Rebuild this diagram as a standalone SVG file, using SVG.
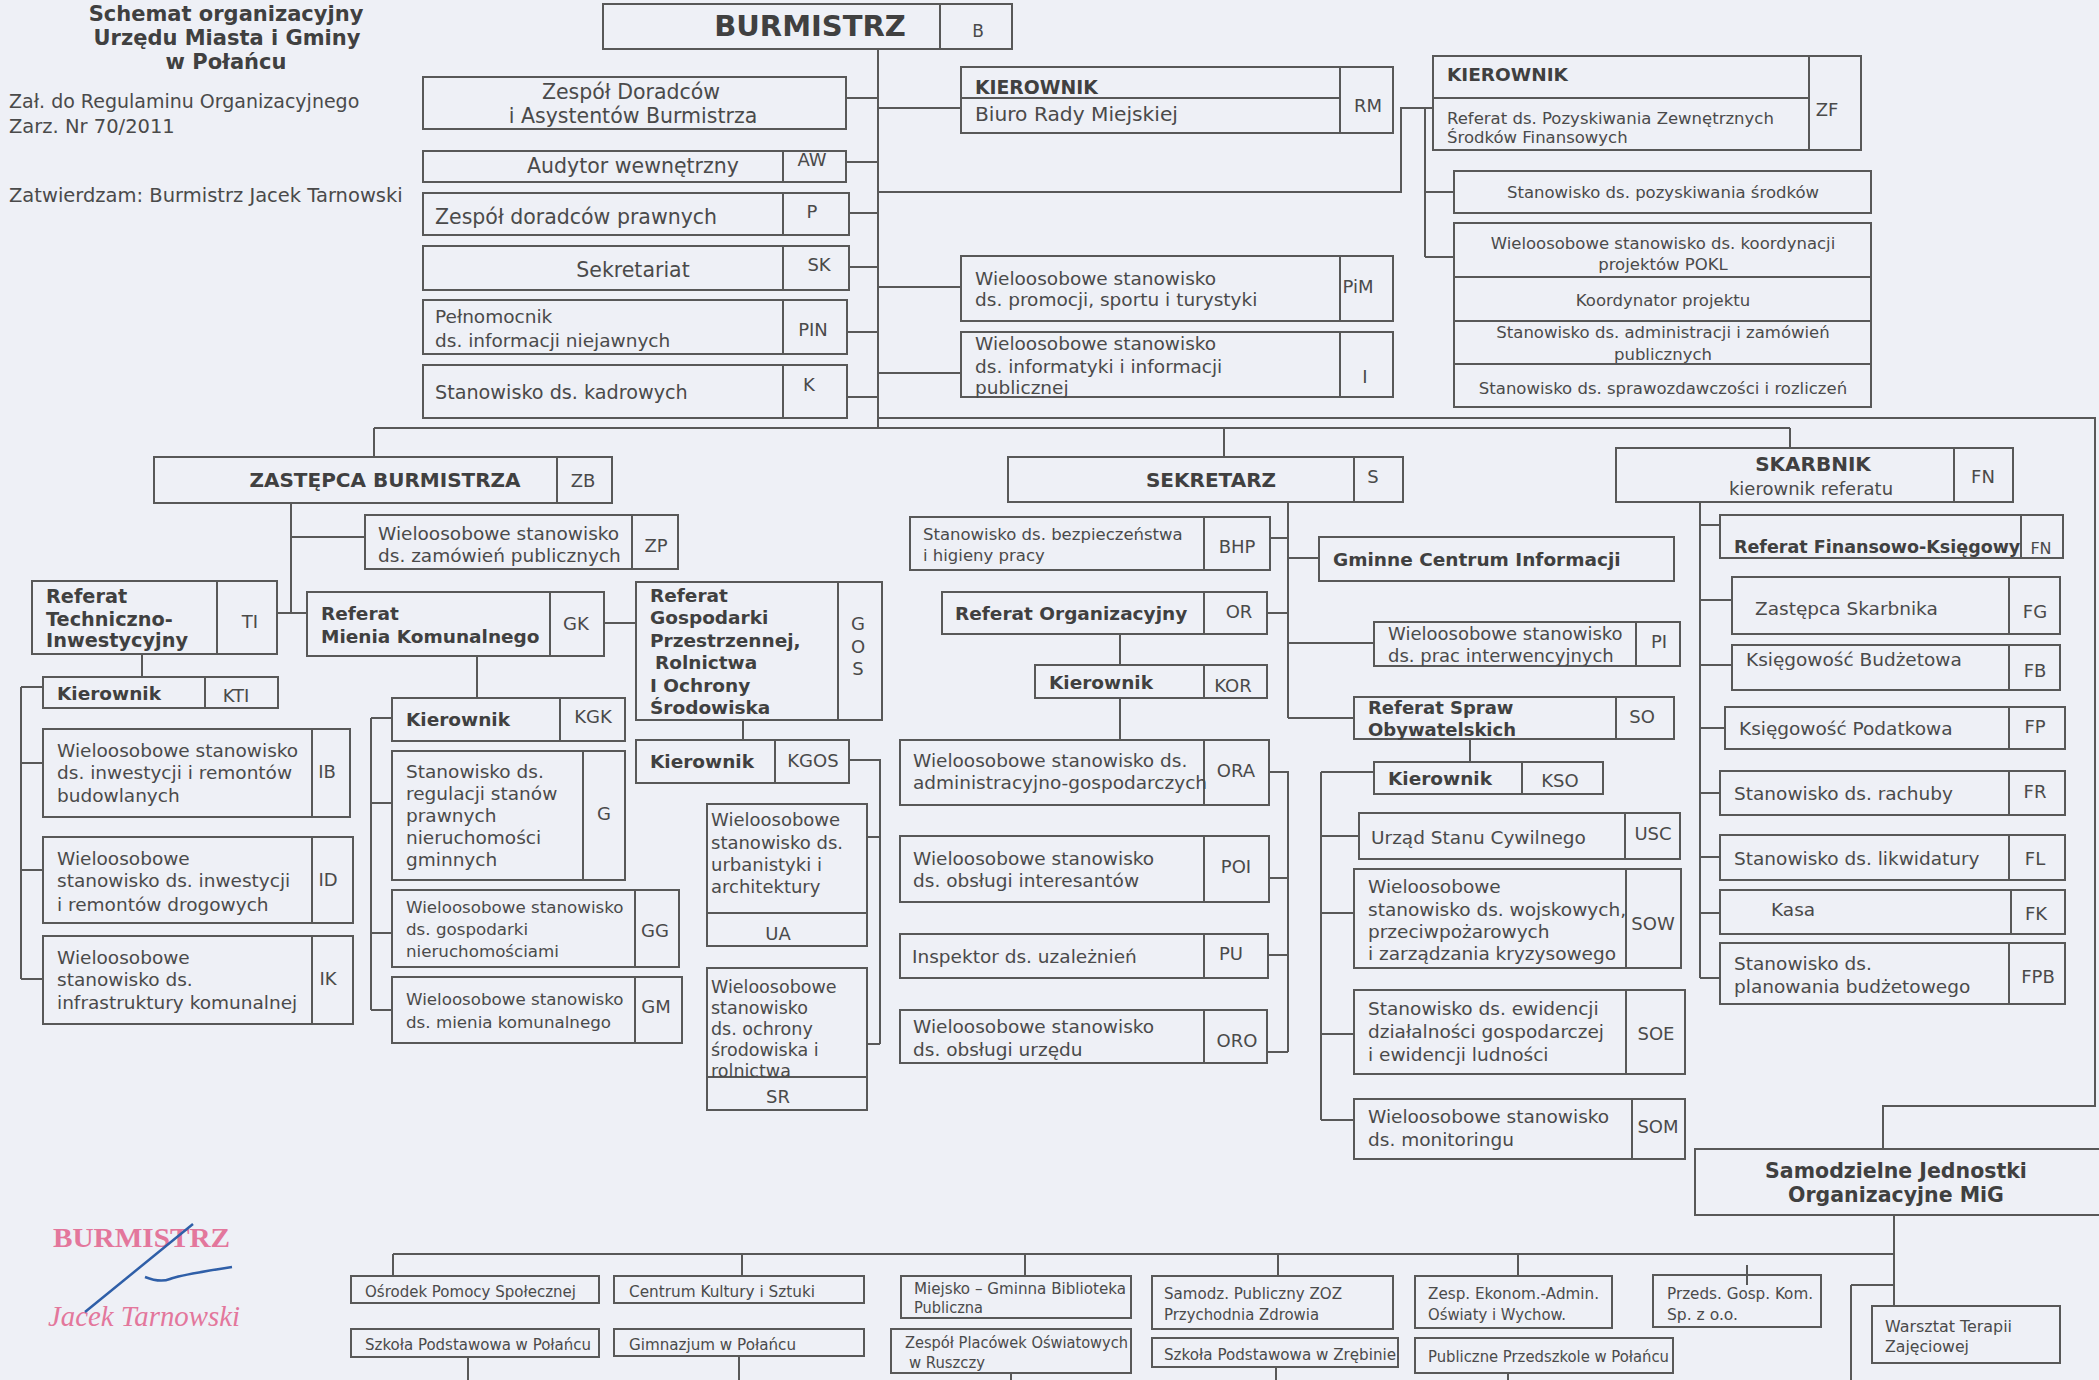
<svg xmlns="http://www.w3.org/2000/svg" width="2099" height="1380" viewBox="0 0 2099 1380">
<style>
.bg{fill:#eef0f6}
.bx{fill:none;stroke:#585858;stroke-width:2}
.ln{fill:none;stroke:#585858;stroke-width:2}
text{font-family:'DejaVu Sans',sans-serif;fill:#4a4a4a;font-size:18.5px}
.b{font-weight:bold;fill:#404040}
.m{text-anchor:middle}
.c{text-anchor:middle;font-size:18px}
.s{font-size:16.5px}
.n{font-size:16px}
.sig{font-family:'Liberation Serif',serif;fill:#e3779c}
</style>
<rect class="bg" width="2099" height="1380"/>

<g id="title">
<text class="b m" x="226" y="21" style="font-size:21px">Schemat organizacyjny</text>
<text class="b m" x="227" y="45" style="font-size:21px">Urzędu Miasta i Gminy</text>
<text class="b m" x="226" y="69" style="font-size:21px">w Połańcu</text>
<text x="9" y="108" style="font-size:19px">Zał. do Regulaminu Organizacyjnego</text>
<text x="9" y="133" style="font-size:19.5px">Zarz. Nr 70/2011</text>
<text x="9" y="202" style="font-size:19.5px">Zatwierdzam: Burmistrz Jacek Tarnowski</text>
</g>

<g id="connectors" class="ln">
<path d="M878 49V428"/>
<path d="M846 98H878M846 162H878M849 213H878M849 267H878M847 332H878M847 397H878"/>
<path d="M878 108H961M878 287H961M878 373H961"/>
<path d="M878 192H1401V108H1433M1425 108V257M1425 192H1454M1425 257H1454"/>
<path d="M878 418H2095V1106H1883V1149"/>
<path d="M374 428H1790M374 428V457M1224 428V457M1790 428V448"/>
<path d="M291 503V613M277 613H307M291 537H365"/>
<path d="M604 623H636"/>
<path d="M142 654V677M21 687V979M21 687H43M21 763H43M21 870H43M21 979H43"/>
<path d="M477 656V698M371 718V1010M371 718H392M371 803H392M371 933H392M371 1010H392"/>
<path d="M743 720V740M849 760H880V1044M867 837H880M867 1044H880"/>
<path d="M1288 502V718M1270 538H1288M1288 558H1319M1267 613H1288M1288 643H1374M1288 718H1354"/>
<path d="M1120 634V665M1120 698V740"/>
<path d="M1269 772H1288V1052M1269 878H1288M1268 955H1288M1267 1052H1288"/>
<path d="M1470 739V762M1321 772V1120M1321 772H1374M1321 836H1359M1321 913H1354M1321 1034H1354M1321 1120H1354"/>
<path d="M1700 502V978M1700 525H1720M1700 600H1732M1700 665H1732M1700 728H1725M1700 793H1720M1700 857H1720M1700 913H1720M1700 978H1720"/>
<path d="M393 1254H1894M393 1254V1276M742 1254V1276M1025 1254V1276M1278 1254V1276M1518 1254V1276M1894 1215V1306M1851 1285H1894M1851 1285V1380M468 1357V1380M739 1356V1380M1011 1373V1380M1276 1367V1380M1508 1373V1380M1747 1265V1285"/>
</g>

<g id="n-B"><rect class="bx" x="603" y="4" width="409" height="45"/><path class="bx" d="M940 4V49"/><text class="b m" x="810" y="36" style="font-size:29px">BURMISTRZ</text><text class="c" x="978" y="37" style="font-size:17px">B</text></g>

<g id="n-ZDA"><rect class="bx" x="423" y="77" width="423" height="52"/><text class="m" x="631" y="99" style="font-size:20.5px">Zespół Doradców</text><text class="m" x="633" y="123" style="font-size:20.5px">i Asystentów Burmistrza</text></g>
<g id="n-AW"><rect class="bx" x="423" y="151" width="423" height="31"/><path class="bx" d="M783 151V182"/><text class="m" x="633" y="173" style="font-size:20.5px">Audytor wewnętrzny</text><text class="c" x="812" y="166">AW</text></g>
<g id="n-P"><rect class="bx" x="423" y="193" width="426" height="42"/><path class="bx" d="M783 193V235"/><text x="435" y="224" style="font-size:20.5px">Zespół doradców prawnych</text><text class="c" x="812" y="218">P</text></g>
<g id="n-SK"><rect class="bx" x="423" y="246" width="426" height="44"/><path class="bx" d="M783 246V290"/><text class="m" x="633" y="277" style="font-size:20.5px">Sekretariat</text><text class="c" x="819" y="271">SK</text></g>
<g id="n-PIN"><rect class="bx" x="423" y="300" width="424" height="54"/><path class="bx" d="M783 300V354"/><text x="435" y="323">Pełnomocnik</text><text x="435" y="347">ds. informacji niejawnych</text><text class="c" x="813" y="336">PIN</text></g>
<g id="n-K"><rect class="bx" x="423" y="365" width="424" height="53"/><path class="bx" d="M783 365V418"/><text x="435" y="399" style="font-size:19.2px">Stanowisko ds. kadrowych</text><text class="c" x="809" y="391">K</text></g>

<g id="n-RM"><rect class="bx" x="961" y="67" width="432" height="66"/><path class="bx" d="M1340 67V133M961 98H1340"/><text class="b" x="975" y="94" style="font-size:18.8px">KIEROWNIK</text><text x="975" y="121" style="font-size:20.2px">Biuro Rady Miejskiej</text><text class="c" x="1368" y="112">RM</text></g>
<g id="n-PiM"><rect class="bx" x="961" y="256" width="432" height="65"/><path class="bx" d="M1340 256V321"/><text x="975" y="285">Wieloosobowe stanowisko</text><text x="975" y="306">ds. promocji, sportu i turystyki</text><text class="c" x="1358" y="293">PiM</text></g>
<g id="n-I"><rect class="bx" x="961" y="332" width="432" height="65"/><path class="bx" d="M1340 332V397"/><text x="975" y="350">Wieloosobowe stanowisko</text><text x="975" y="373">ds. informatyki i informacji</text><text x="975" y="394">publicznej</text><text class="c" x="1365" y="383">I</text></g>

<g id="n-ZF"><rect class="bx" x="1433" y="56" width="428" height="94"/><path class="bx" d="M1809 56V150M1433 98H1809"/><text class="b" x="1447" y="81" style="font-size:18.5px">KIEROWNIK</text><text x="1447" y="124" style="font-size:16.5px">Referat ds. Pozyskiwania Zewnętrznych</text><text x="1447" y="143" style="font-size:16.5px">Środków Finansowych</text><text class="c" x="1827" y="116">ZF</text></g>
<g id="n-ZF1"><rect class="bx" x="1454" y="171" width="417" height="42"/><text class="m s" x="1663" y="198">Stanowisko ds. pozyskiwania środków</text></g>
<g id="n-ZF2"><rect class="bx" x="1454" y="223" width="417" height="184"/><path class="bx" d="M1454 277H1871M1454 321H1871M1454 364H1871"/>
<text class="m s" x="1663" y="249">Wieloosobowe stanowisko ds. koordynacji</text><text class="m s" x="1663" y="270">projektów POKL</text>
<text class="m s" x="1663" y="306">Koordynator projektu</text>
<text class="m s" x="1663" y="338">Stanowisko ds. administracji i zamówień</text><text class="m s" x="1663" y="360">publicznych</text>
<text class="m s" x="1663" y="394">Stanowisko ds. sprawozdawczości i rozliczeń</text></g>

<g id="n-ZB"><rect class="bx" x="154" y="457" width="458" height="46"/><path class="bx" d="M557 457V503"/><text class="b m" x="385" y="487" style="font-size:20px">ZASTĘPCA BURMISTRZA</text><text class="c" x="583" y="487">ZB</text></g>
<g id="n-ZP"><rect class="bx" x="365" y="515" width="313" height="54"/><path class="bx" d="M632 515V569"/><text x="378" y="540">Wieloosobowe stanowisko</text><text x="378" y="562">ds. zamówień publicznych</text><text class="c" x="656" y="552">ZP</text></g>
<g id="n-TI"><rect class="bx" x="32" y="581" width="245" height="73"/><path class="bx" d="M217 581V654"/><text class="b" x="46" y="603" style="font-size:19.3px">Referat</text><text class="b" x="46" y="626" style="font-size:19.3px">Techniczno-</text><text class="b" x="46" y="647" style="font-size:19.3px">Inwestycyjny</text><text class="c" x="250" y="628">TI</text></g>
<g id="n-GK"><rect class="bx" x="307" y="592" width="297" height="64"/><path class="bx" d="M550 592V656"/><text class="b" x="321" y="620">Referat</text><text class="b" x="321" y="643">Mienia Komunalnego</text><text class="c" x="576" y="630">GK</text></g>
<g id="n-GOS"><rect class="bx" x="636" y="582" width="246" height="138"/><path class="bx" d="M838 582V720"/><text class="b" x="650" y="602">Referat</text><text class="b" x="650" y="624">Gospodarki</text><text class="b" x="650" y="647">Przestrzennej,</text><text class="b" x="655" y="669">Rolnictwa</text><text class="b" x="650" y="692">I Ochrony</text><text class="b" x="650" y="714">Środowiska</text><text class="c" x="858" y="630">G</text><text class="c" x="858" y="653">O</text><text class="c" x="858" y="675">S</text></g>
<g id="n-KTI"><rect class="bx" x="43" y="677" width="235" height="31"/><path class="bx" d="M205 677V708"/><text class="b" x="57" y="700">Kierownik</text><text class="c" x="236" y="702">KTI</text></g>
<g id="n-IB"><rect class="bx" x="43" y="729" width="307" height="88"/><path class="bx" d="M312 729V817"/><text x="57" y="757">Wieloosobowe stanowisko</text><text x="57" y="779">ds. inwestycji i remontów</text><text x="57" y="802">budowlanych</text><text class="c" x="327" y="778">IB</text></g>
<g id="n-ID"><rect class="bx" x="43" y="837" width="310" height="86"/><path class="bx" d="M312 837V923"/><text x="57" y="865">Wieloosobowe</text><text x="57" y="887">stanowisko ds. inwestycji</text><text x="57" y="911">i remontów drogowych</text><text class="c" x="328" y="886">ID</text></g>
<g id="n-IK"><rect class="bx" x="43" y="936" width="310" height="88"/><path class="bx" d="M312 936V1024"/><text x="57" y="964">Wieloosobowe</text><text x="57" y="986">stanowisko ds.</text><text x="57" y="1009">infrastruktury komunalnej</text><text class="c" x="328" y="985">IK</text></g>
<g id="n-KGK"><rect class="bx" x="392" y="698" width="233" height="43"/><path class="bx" d="M560 698V741"/><text class="b" x="406" y="726">Kierownik</text><text class="c" x="593" y="723">KGK</text></g>
<g id="n-G"><rect class="bx" x="392" y="751" width="233" height="129"/><path class="bx" d="M583 751V880"/><text x="406" y="778">Stanowisko ds.</text><text x="406" y="800">regulacji stanów</text><text x="406" y="822">prawnych</text><text x="406" y="844">nieruchomości</text><text x="406" y="866">gminnych</text><text class="c" x="604" y="820">G</text></g>
<g id="n-GG"><rect class="bx" x="392" y="890" width="287" height="77"/><path class="bx" d="M635 890V967"/><text x="406" y="913" style="font-size:16.7px">Wieloosobowe stanowisko</text><text x="406" y="935" style="font-size:16.7px">ds. gospodarki</text><text x="406" y="957" style="font-size:16.7px">nieruchomościami</text><text class="c" x="655" y="937">GG</text></g>
<g id="n-GM"><rect class="bx" x="392" y="977" width="290" height="66"/><path class="bx" d="M635 977V1043"/><text x="406" y="1005" style="font-size:16.7px">Wieloosobowe stanowisko</text><text x="406" y="1028" style="font-size:16.7px">ds. mienia komunalnego</text><text class="c" x="656" y="1013">GM</text></g>
<g id="n-KGOS"><rect class="bx" x="636" y="740" width="213" height="43"/><path class="bx" d="M775 740V783"/><text class="b" x="650" y="768">Kierownik</text><text class="c" x="813" y="767">KGOS</text></g>
<g id="n-UA"><rect class="bx" x="707" y="804" width="160" height="142"/><path class="bx" d="M707 913H867"/><text x="711" y="826" style="font-size:18px">Wieloosobowe</text><text x="711" y="849" style="font-size:18px">stanowisko ds.</text><text x="711" y="871" style="font-size:18px">urbanistyki i</text><text x="711" y="893" style="font-size:18px">architektury</text><text class="c" x="778" y="940">UA</text></g>
<g id="n-SR"><rect class="bx" x="707" y="968" width="160" height="142"/><path class="bx" d="M707 1077H867"/><text x="711" y="993" style="font-size:17.5px">Wieloosobowe</text><text x="711" y="1014" style="font-size:17.5px">stanowisko</text><text x="711" y="1035" style="font-size:17.5px">ds. ochrony</text><text x="711" y="1056" style="font-size:17.5px">środowiska i</text><text x="711" y="1077" style="font-size:17.5px">rolnictwa</text><text class="c" x="778" y="1103">SR</text></g>

<g id="n-S"><rect class="bx" x="1008" y="457" width="395" height="45"/><path class="bx" d="M1354 457V502"/><text class="b m" x="1211" y="487" style="font-size:20px">SEKRETARZ</text><text class="c" x="1373" y="483">S</text></g>
<g id="n-BHP"><rect class="bx" x="910" y="517" width="360" height="53"/><path class="bx" d="M1204 517V570"/><text x="923" y="540" style="font-size:16.5px">Stanowisko ds. bezpieczeństwa</text><text x="923" y="561" style="font-size:16.5px">i higieny pracy</text><text class="c" x="1237" y="553">BHP</text></g>
<g id="n-OR"><rect class="bx" x="942" y="592" width="325" height="42"/><path class="bx" d="M1204 592V634"/><text class="b" x="955" y="620" style="font-size:18.5px">Referat Organizacyjny</text><text class="c" x="1239" y="618">OR</text></g>
<g id="n-KOR"><rect class="bx" x="1035" y="665" width="232" height="33"/><path class="bx" d="M1204 665V698"/><text class="b" x="1049" y="689">Kierownik</text><text class="c" x="1233" y="692">KOR</text></g>
<g id="n-ORA"><rect class="bx" x="900" y="740" width="369" height="65"/><path class="bx" d="M1204 740V805"/><text x="913" y="767">Wieloosobowe stanowisko ds.</text><text x="913" y="789">administracyjno-gospodarczych</text><text class="c" x="1236" y="777">ORA</text></g>
<g id="n-POI"><rect class="bx" x="900" y="836" width="369" height="66"/><path class="bx" d="M1204 836V902"/><text x="913" y="865">Wieloosobowe stanowisko</text><text x="913" y="887">ds. obsługi interesantów</text><text class="c" x="1236" y="873">POI</text></g>
<g id="n-PU"><rect class="bx" x="900" y="934" width="368" height="44"/><path class="bx" d="M1204 934V978"/><text x="912" y="963">Inspektor ds. uzależnień</text><text class="c" x="1231" y="960">PU</text></g>
<g id="n-ORO"><rect class="bx" x="900" y="1010" width="367" height="53"/><path class="bx" d="M1204 1010V1063"/><text x="913" y="1033">Wieloosobowe stanowisko</text><text x="913" y="1056">ds. obsługi urzędu</text><text class="c" x="1237" y="1047">ORO</text></g>
<g id="n-GCI"><rect class="bx" x="1319" y="537" width="355" height="44"/><text class="b" x="1333" y="566">Gminne Centrum Informacji</text></g>
<g id="n-PI"><rect class="bx" x="1374" y="622" width="306" height="44"/><path class="bx" d="M1636 622V666"/><text x="1388" y="640" style="font-size:18px">Wieloosobowe stanowisko</text><text x="1388" y="662" style="font-size:18px">ds. prac interwencyjnych</text><text class="c" x="1659" y="648">PI</text></g>
<g id="n-SO"><rect class="bx" x="1354" y="697" width="320" height="42"/><path class="bx" d="M1616 697V739"/><text class="b" x="1368" y="714" style="font-size:18px">Referat Spraw</text><text class="b" x="1368" y="736" style="font-size:18px">Obywatelskich</text><text class="c" x="1642" y="723">SO</text></g>
<g id="n-KSO"><rect class="bx" x="1374" y="762" width="229" height="32"/><path class="bx" d="M1522 762V794"/><text class="b" x="1388" y="785">Kierownik</text><text class="c" x="1560" y="787">KSO</text></g>
<g id="n-USC"><rect class="bx" x="1359" y="813" width="321" height="46"/><path class="bx" d="M1625 813V859"/><text x="1371" y="844">Urząd Stanu Cywilnego</text><text class="c" x="1653" y="840">USC</text></g>
<g id="n-SOW"><rect class="bx" x="1354" y="869" width="327" height="99"/><path class="bx" d="M1626 869V968"/><text x="1368" y="893">Wieloosobowe</text><text x="1368" y="916">stanowisko ds. wojskowych,</text><text x="1368" y="938">przeciwpożarowych</text><text x="1368" y="960">i zarządzania kryzysowego</text><text class="c" x="1653" y="930">SOW</text></g>
<g id="n-SOE"><rect class="bx" x="1354" y="990" width="331" height="84"/><path class="bx" d="M1626 990V1074"/><text x="1368" y="1015">Stanowisko ds. ewidencji</text><text x="1368" y="1038">działalności gospodarczej</text><text x="1368" y="1061">i ewidencji ludności</text><text class="c" x="1656" y="1040">SOE</text></g>
<g id="n-SOM"><rect class="bx" x="1354" y="1099" width="331" height="60"/><path class="bx" d="M1632 1099V1159"/><text x="1368" y="1123">Wieloosobowe stanowisko</text><text x="1368" y="1146">ds. monitoringu</text><text class="c" x="1658" y="1133">SOM</text></g>

<g id="n-FN0"><rect class="bx" x="1616" y="448" width="397" height="54"/><path class="bx" d="M1954 448V502"/><text class="b m" x="1813" y="471" style="font-size:20px">SKARBNIK</text><text class="m" x="1811" y="495" style="font-size:18px">kierownik referatu</text><text class="c" x="1983" y="483">FN</text></g>
<g id="n-FN"><rect class="bx" x="1720" y="515" width="343" height="43"/><path class="bx" d="M2021 515V558"/><text class="b" x="1734" y="553" style="font-size:17.5px">Referat  Finansowo-Księgowy</text><text class="c" x="2041" y="554" style="font-size:16px">FN</text></g>
<g id="n-FG"><rect class="bx" x="1732" y="577" width="328" height="57"/><path class="bx" d="M2009 577V634"/><text x="1755" y="615">Zastępca Skarbnika</text><text class="c" x="2035" y="618">FG</text></g>
<g id="n-FB"><rect class="bx" x="1732" y="645" width="328" height="45"/><path class="bx" d="M2009 645V690"/><text x="1746" y="666">Księgowość Budżetowa</text><text class="c" x="2035" y="677">FB</text></g>
<g id="n-FP"><rect class="bx" x="1725" y="707" width="340" height="42"/><path class="bx" d="M2009 707V749"/><text x="1739" y="735">Księgowość Podatkowa</text><text class="c" x="2035" y="733">FP</text></g>
<g id="n-FR"><rect class="bx" x="1720" y="771" width="345" height="44"/><path class="bx" d="M2009 771V815"/><text x="1734" y="800">Stanowisko ds. rachuby</text><text class="c" x="2035" y="798">FR</text></g>
<g id="n-FL"><rect class="bx" x="1720" y="835" width="345" height="45"/><path class="bx" d="M2009 835V880"/><text x="1734" y="865">Stanowisko ds. likwidatury</text><text class="c" x="2035" y="865">FL</text></g>
<g id="n-FK"><rect class="bx" x="1720" y="890" width="345" height="44"/><path class="bx" d="M2011 890V934"/><text x="1771" y="916">Kasa</text><text class="c" x="2036" y="920">FK</text></g>
<g id="n-FPB"><rect class="bx" x="1720" y="943" width="345" height="61"/><path class="bx" d="M2009 943V1004"/><text x="1734" y="970">Stanowisko ds.</text><text x="1734" y="993">planowania budżetowego</text><text class="c" x="2038" y="983">FPB</text></g>

<g id="n-SJO"><rect class="bx" x="1695" y="1149" width="420" height="66"/><text class="b m" x="1896" y="1178" style="font-size:20.5px">Samodzielne Jednostki</text><text class="b m" x="1896" y="1202" style="font-size:20.5px">Organizacyjne MiG</text></g>

<g id="n-OPS"><rect class="bx" x="351" y="1276" width="248" height="27"/><text class="n" x="365" y="1297" textLength="211" lengthAdjust="spacingAndGlyphs">Ośrodek Pomocy Społecznej</text></g>
<g id="n-SPP"><rect class="bx" x="351" y="1329" width="248" height="28"/><text class="n" x="365" y="1350" textLength="226" lengthAdjust="spacingAndGlyphs">Szkoła Podstawowa w Połańcu</text></g>
<g id="n-CKS"><rect class="bx" x="614" y="1276" width="250" height="27"/><text class="n" x="629" y="1297" textLength="186" lengthAdjust="spacingAndGlyphs">Centrum Kultury i Sztuki</text></g>
<g id="n-GP"><rect class="bx" x="614" y="1329" width="250" height="27"/><text class="n" x="629" y="1350" textLength="167" lengthAdjust="spacingAndGlyphs">Gimnazjum w Połańcu</text></g>
<g id="n-MGB"><rect class="bx" x="901" y="1276" width="230" height="42"/><text class="n" x="914" y="1294" textLength="212" lengthAdjust="spacingAndGlyphs">Miejsko – Gminna Biblioteka</text><text class="n" x="914" y="1313" textLength="69" lengthAdjust="spacingAndGlyphs">Publiczna</text></g>
<g id="n-ZPO"><rect class="bx" x="891" y="1329" width="240" height="44"/><text class="n" x="905" y="1348" textLength="223" lengthAdjust="spacingAndGlyphs">Zespół Placówek Oświatowych</text><text class="n" x="909" y="1368" textLength="76" lengthAdjust="spacingAndGlyphs">w Ruszczy</text></g>
<g id="n-ZOZ"><rect class="bx" x="1152" y="1276" width="241" height="53"/><text class="n" x="1164" y="1299" textLength="178" lengthAdjust="spacingAndGlyphs">Samodz. Publiczny ZOZ</text><text class="n" x="1164" y="1320" textLength="155" lengthAdjust="spacingAndGlyphs">Przychodnia Zdrowia</text></g>
<g id="n-SPZ"><rect class="bx" x="1152" y="1338" width="246" height="29"/><text class="n" x="1164" y="1360" textLength="232" lengthAdjust="spacingAndGlyphs">Szkoła Podstawowa w Zrębinie</text></g>
<g id="n-ZEA"><rect class="bx" x="1415" y="1276" width="197" height="52"/><text class="n" x="1428" y="1299" textLength="171" lengthAdjust="spacingAndGlyphs">Zesp. Ekonom.-Admin.</text><text class="n" x="1428" y="1320" textLength="138" lengthAdjust="spacingAndGlyphs">Oświaty i Wychow.</text></g>
<g id="n-PGK"><rect class="bx" x="1653" y="1275" width="168" height="52"/><text class="n" x="1667" y="1299" textLength="146" lengthAdjust="spacingAndGlyphs">Przeds. Gosp. Kom.</text><text class="n" x="1667" y="1320" textLength="71" lengthAdjust="spacingAndGlyphs">Sp. z o.o.</text></g>
<g id="n-PPP"><rect class="bx" x="1415" y="1338" width="258" height="35"/><text class="n" x="1428" y="1362" textLength="241" lengthAdjust="spacingAndGlyphs">Publiczne Przedszkole w Połańcu</text></g>
<g id="n-WTZ"><rect class="bx" x="1872" y="1306" width="188" height="57"/><text class="n" x="1885" y="1332" textLength="127" lengthAdjust="spacingAndGlyphs">Warsztat Terapii</text><text class="n" x="1885" y="1352" textLength="84" lengthAdjust="spacingAndGlyphs">Zajęciowej</text></g>

<g id="signature">
<text class="sig" x="53" y="1247" style="font-size:28px;font-weight:bold" textLength="177" lengthAdjust="spacingAndGlyphs">BURMISTRZ</text>
<text class="sig" x="48" y="1326" style="font-size:29px;font-style:italic" textLength="192" lengthAdjust="spacingAndGlyphs">Jacek Tarnowski</text>
<path d="M85 1312L193 1224M145 1277Q160 1283 170 1279T232 1267" fill="none" stroke="#2f5fa8" stroke-width="2.5"/>
</g>
</svg>
